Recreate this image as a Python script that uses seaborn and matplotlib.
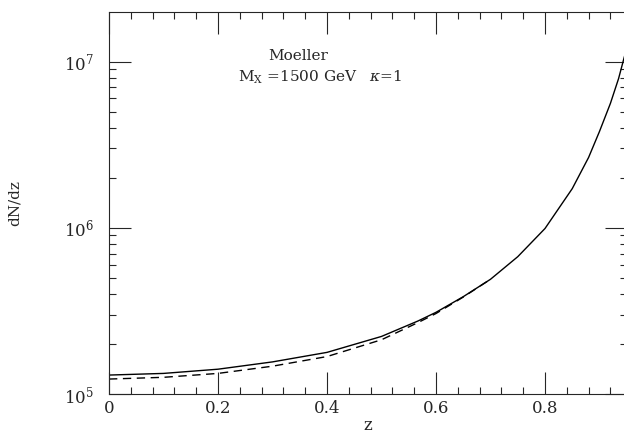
import matplotlib
matplotlib.use("Agg")
import matplotlib.pyplot as plt
import matplotlib.ticker as mticker
import seaborn as sns
import pandas as pd
import numpy as np

# Data
z_solid = [0.0, 0.1, 0.2, 0.3, 0.4, 0.5, 0.567, 0.6, 0.65, 0.7, 0.75, 0.8, 0.85, 0.88,
           0.9, 0.92, 0.935, 0.945, 0.95]
dndz_solid = [1.30e5, 1.33e5, 1.41e5, 1.56e5, 1.78e5, 2.22e5, 2.75e5, 3.1e5, 3.85e5, 4.9e5,
              6.7e5, 9.9e5, 1.72e6, 2.65e6, 3.8e6, 5.6e6, 7.9e6, 1.05e7, 1.2e7]
z_dashed = [0.0, 0.1, 0.2, 0.3, 0.4, 0.5, 0.567, 0.6, 0.65, 0.7]
dndz_dashed = [1.23e5, 1.26e5, 1.33e5, 1.47e5, 1.68e5, 2.12e5, 2.69e5, 3.05e5, 3.83e5, 4.9e5]

sns.set_style("ticks")
plt.rcParams['font.family'] = ['DejaVu Serif']
plt.rcParams['mathtext.fontset'] = 'dejavuserif'

fig = plt.figure(figsize=(6.24, 4.34), dpi=100)
ax = fig.add_axes([109/624, 40/434, (626.75-109)/624, (394-11.7)/434])

df_s = pd.DataFrame({"z": z_solid, "v": dndz_solid})
df_d = pd.DataFrame({"z": z_dashed, "v": dndz_dashed})
sns.lineplot(data=df_s, x="z", y="v", ax=ax, color="black", lw=1.0)
sns.lineplot(data=df_d, x="z", y="v", ax=ax, color="black", lw=1.0, dashes=False,
             linestyle=(0, (6, 4)))

ax.set_yscale("log")
ax.set_xlim(0, 0.95)
ax.set_ylim(1e5, 10**7.3)

ax.xaxis.set_major_locator(mticker.MultipleLocator(0.2))
ax.xaxis.set_minor_locator(mticker.MultipleLocator(0.04))
ax.xaxis.set_major_formatter(mticker.FuncFormatter(lambda v, p: "0" if abs(v) < 1e-9 else f"{v:.1f}"))
ax.yaxis.set_major_locator(mticker.LogLocator(base=10))
ax.yaxis.set_minor_locator(mticker.LogLocator(base=10, subs=np.arange(2, 10)))
ax.yaxis.set_major_formatter(mticker.LogFormatterMathtext())
ax.yaxis.set_minor_formatter(mticker.NullFormatter())

ax.tick_params(which="both", direction="in", top=True, right=True, labelsize=12, width=0.8)
ax.tick_params(which="major", length=16)
ax.tick_params(which="minor", length=5)
ax.tick_params(axis="x", pad=4)
ax.tick_params(axis="y", pad=11)
for s in ax.spines.values():
    s.set_linewidth(0.8)

ax.set_xlabel("z", fontsize=12, labelpad=0)
ax.set_ylabel("dN/dz", fontsize=11, labelpad=30)

ax.text(0.366, 0.884, "Moeller", transform=ax.transAxes, fontsize=11, ha="center", va="center")
ax.text(0.25, 0.829, r"M$_{\mathrm{X}}$ =1500 GeV   $\kappa$=1", transform=ax.transAxes,
        fontsize=11, ha="left", va="center")

fig.savefig("out.png", dpi=100)
